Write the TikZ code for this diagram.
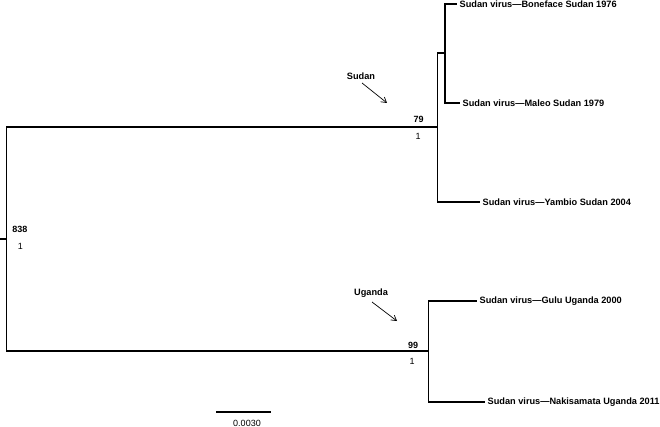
\documentclass[tikz,border=0pt]{standalone}
\usepackage{fontspec}
\setmainfont{Liberation Sans}
\usetikzlibrary{arrows.meta}
\begin{document}
\begin{tikzpicture}[x=1pt,y=-1pt,
  branch/.style={line width=1.7pt},
  leaf/.style={anchor=west,inner xsep=2.5pt,inner ysep=0pt,font=\fontsize{9.2}{10}\selectfont\bfseries},
  boot/.style={inner sep=0pt,font=\fontsize{9}{10}\selectfont\bfseries},
  post/.style={inner sep=0pt,font=\fontsize{9}{10}\selectfont},
  clade/.style={inner sep=0pt,font=\fontsize{9.2}{10}\selectfont\bfseries},
  pointer/.style={line width=0.7pt,-{Straight Barb[length=5pt,width=6pt]}}]
\useasboundingbox (0,0) rectangle (660,427);
% internal nodes
\coordinate (r0) at (0,239);
\coordinate (r) at (6.5,239);
\coordinate (s) at (437.5,127);
\coordinate (s2) at (445,53);
\coordinate (u) at (428.5,351);
% leaves
\node[leaf] (bon) at (457,4) {Sudan virus—Boneface Sudan 1976};
\node[leaf] (mal) at (460,103) {Sudan virus—Maleo Sudan 1979};
\node[leaf] (yam) at (480,202) {Sudan virus—Yambio Sudan 2004};
\node[leaf] (gul) at (477,301) {Sudan virus—Gulu Uganda 2000};
\node[leaf] (nak) at (485,402) {Sudan virus—Nakisamata Uganda 2011};
% branches
\draw[branch] (r0) -- (r);
\draw[branch] (r) |- (s);
\draw[branch] (r) |- (u);
\draw[branch] (s) |- (s2);
\draw[branch] (s) |- (yam.west);
\draw[branch] (s2) |- (bon.west);
\draw[branch] (s2) |- (mal.west);
\draw[branch] (u) |- (gul.west);
\draw[branch] (u) |- (nak.west);
% support values
\node[boot] (b838) at (20,229) {838};
\node[post] (p838) at (20.5,246) {1};
\node[boot] (b79) at (418.5,119) {79};
\node[post] (p79) at (418,136) {1};
\node[boot] (b99) at (413,345) {99};
\node[post] (p99) at (412,361) {1};
% clade labels
\node[clade] (lsud) at (361,76) {Sudan};
\coordinate (asud) at (387,103);
\draw[pointer] (362,83) -- (asud);
\node[clade] (luga) at (371,293) {Uganda};
\coordinate (auga) at (397,321);
\draw[pointer] (372,302) -- (auga);
% scale bar
\coordinate (sb1) at (216,412);
\coordinate (sb2) at (271,412);
\draw[line width=1.4pt] (sb1) -- (sb2);
\node[post] (sbl) at (247,423) {0.0030};
\end{tikzpicture}
\end{document}
